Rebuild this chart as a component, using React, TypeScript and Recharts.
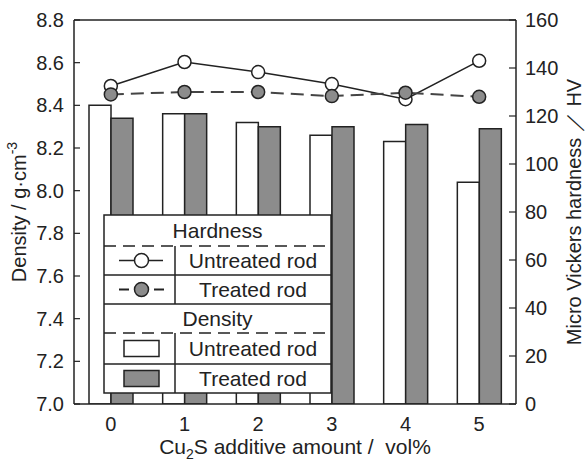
import { ComposedChart, Bar, Line, XAxis, YAxis, ReferenceLine, Legend, Label } from "recharts";

const categories = ["0", "1", "2", "3", "4", "5"];
const densityUntreated = [8.4, 8.36, 8.32, 8.26, 8.23, 8.04];
const densityTreated = [8.34, 8.36, 8.3, 8.3, 8.31, 8.29];
const hardnessUntreated = [132.5, 142.5, 138.3, 133.3, 127, 143];
const hardnessTreated = [129, 130, 130, 128.3, 129.7, 128];
const densityTicks = [7.0, 7.2, 7.4, 7.6, 7.8, 8.0, 8.2, 8.4, 8.6, 8.8];
const hardnessTicks = [0, 20, 40, 60, 80, 100, 120, 140, 160];

const FONT = '"Liberation Sans", Arial, sans-serif';
const INK = "#222";
const GRAY = "#8c8c8c";

const data = categories.map((c, i) => ({
  x: c,
  du: densityUntreated[i],
  dt: densityTreated[i],
  hu: hardnessUntreated[i],
  ht: hardnessTreated[i],
}));

// boxed legend, drawn as svg so the dashes look like the original
function LegendBox() {
  const w = 227;
  const h = 178;
  const rows = [0, 31, 60, 89, 118, 149, 178];
  const div = 71;
  const cx = 37.5;
  const tx = (div + w) / 2;
  const mid = (i: number) => (rows[i] + rows[i + 1]) / 2;
  const txt = { fontFamily: FONT, fontSize: 21, fill: INK, textAnchor: "middle" as const, dominantBaseline: "central" as const };
  return (
    <svg width={w + 2} height={h + 2} style={{ display: "block" }}>
      <g transform="translate(1,1)" stroke={INK} strokeWidth={1.5}>
        <rect x={0} y={0} width={w} height={h} fill="#fff" />
        <line x1={0} x2={w} y1={rows[1]} y2={rows[1]} strokeDasharray="12 7" />
        <line x1={0} x2={w} y1={rows[2]} y2={rows[2]} />
        <line x1={0} x2={w} y1={rows[3]} y2={rows[3]} />
        <line x1={0} x2={w} y1={rows[4]} y2={rows[4]} strokeDasharray="12 7" />
        <line x1={0} x2={w} y1={rows[5]} y2={rows[5]} />
        <line x1={div} x2={div} y1={rows[1]} y2={rows[3]} />
        <line x1={div} x2={div} y1={rows[4]} y2={rows[6]} />
        <line x1={15} x2={59} y1={mid(1)} y2={mid(1)} />
        <circle cx={cx} cy={mid(1)} r={7} fill="#fff" />
        <line x1={15} x2={25} y1={mid(2)} y2={mid(2)} strokeWidth={2} />
        <line x1={50} x2={60} y1={mid(2)} y2={mid(2)} strokeWidth={2} />
        <circle cx={cx} cy={mid(2)} r={7} fill={GRAY} />
        <rect x={20} y={mid(4) - 8} width={35} height={16} fill="#fff" />
        <rect x={20} y={mid(5) - 8} width={35} height={16} fill={GRAY} />
      </g>
      <g transform="translate(1,1)">
        <text x={w / 2} y={mid(0)} {...txt}>Hardness</text>
        <text x={tx} y={mid(1)} {...txt}>Untreated rod</text>
        <text x={tx} y={mid(2)} {...txt}>Treated rod</text>
        <text x={w / 2} y={mid(3)} {...txt}>Density</text>
        <text x={tx} y={mid(4)} {...txt}>Untreated rod</text>
        <text x={tx} y={mid(5)} {...txt}>Treated rod</text>
      </g>
    </svg>
  );
}

const tickStyle = { fontFamily: FONT, fontSize: 20, fill: INK };

// y ticks point into the plot, label sits outside
function LeftTick(props: any) {
  const { x, y, payload } = props;
  const ax = x + 10;
  return (
    <g>
      <line x1={ax} x2={ax + 6} y1={y} y2={y} stroke={INK} strokeWidth={1.2} />
      <text x={x} y={y} textAnchor="end" dominantBaseline="central" {...tickStyle}>
        {Number(payload.value).toFixed(1)}
      </text>
    </g>
  );
}

function RightTick(props: any) {
  const { x, y, payload } = props;
  const ax = x - 9;
  return (
    <g>
      <line x1={ax} x2={ax - 7} y1={y} y2={y} stroke={INK} strokeWidth={1.2} />
      <text x={x} y={y} textAnchor="start" dominantBaseline="central" {...tickStyle}>
        {payload.value}
      </text>
    </g>
  );
}

function App() {
  return (
    <div style={{ position: "absolute", left: 0, top: 0 }}>
      <ComposedChart
        width={588}
        height={461}
        data={data}
        margin={{ top: 20, right: 0, bottom: 0, left: 0 }}
        barGap={0}
      >
        <XAxis
          dataKey="x"
          height={57}
          tickLine={false}
          tickSize={0}
          tickMargin={13}
          axisLine={{ stroke: INK, strokeWidth: 1.5 }}
          tick={tickStyle}
        >
          <Label
            content={({ viewBox }: any) => (
              <text
                x={viewBox.x + viewBox.width / 2}
                y={viewBox.y + viewBox.height - 7}
                textAnchor="middle"
                fontFamily={FONT}
                fontSize={21}
                fill={INK}
                style={{ whiteSpace: "pre" }}
              >
                Cu<tspan dy={5} fontSize={14}>2</tspan>
                <tspan dy={-5}>S additive amount /  vol%</tspan>
              </text>
            )}
          />
        </XAxis>
        <YAxis
          yAxisId="left"
          width={74}
          domain={[7.0, 8.8]}
          ticks={densityTicks}
          tickSize={0}
          tickMargin={10}
          tickLine={false}
          axisLine={{ stroke: INK, strokeWidth: 1.5 }}
          tick={<LeftTick />}
          allowDataOverflow
        >
          <Label
            content={({ viewBox }: any) => {
              const x = viewBox.x + 19;
              const y = viewBox.y + viewBox.height / 2;
              return (
                <text
                  x={x}
                  y={y}
                  transform={`rotate(-90 ${x} ${y})`}
                  textAnchor="middle"
                  dominantBaseline="central"
                  fontFamily={FONT}
                  fontSize={20}
                  fill={INK}
                >
                  Density / g·cm<tspan dy={-7} fontSize={14}>-3</tspan>
                </text>
              );
            }}
          />
        </YAxis>
        <YAxis
          yAxisId="right"
          orientation="right"
          width={72}
          domain={[0, 160]}
          ticks={hardnessTicks}
          tickSize={0}
          tickMargin={9}
          tickLine={false}
          axisLine={{ stroke: INK, strokeWidth: 1.5 }}
          tick={<RightTick />}
        >
          <Label
            content={({ viewBox }: any) => {
              const x = viewBox.x + 58;
              const y = viewBox.y + viewBox.height / 2;
              return (
                <text
                  x={x}
                  y={y}
                  transform={`rotate(-90 ${x} ${y})`}
                  textAnchor="middle"
                  dominantBaseline="central"
                  fontFamily={FONT}
                  fontSize={20}
                  fill={INK}
                >
                  Micro Vickers hardness ／ HV
                </text>
              );
            }}
          />
        </YAxis>
        <ReferenceLine yAxisId="left" y={8.8} stroke={INK} strokeWidth={1.5} />
        <Bar yAxisId="left" dataKey="du" barSize={22} fill="#fff" stroke={INK} strokeWidth={1.5} isAnimationActive={false} />
        <Bar yAxisId="left" dataKey="dt" barSize={22} fill={GRAY} stroke={INK} strokeWidth={1.5} isAnimationActive={false} />
        <Line
          yAxisId="right"
          dataKey="hu"
          stroke={INK}
          strokeWidth={1.5}
          dot={{ r: 6.5, fill: "#fff", stroke: INK, strokeWidth: 1.5 }}
          activeDot={false}
          isAnimationActive={false}
        />
        <Line
          yAxisId="right"
          dataKey="ht"
          stroke="#444"
          strokeWidth={2}
          strokeDasharray="13 7"
          dot={{ r: 6.5, fill: GRAY, stroke: INK, strokeWidth: 1.5, strokeDasharray: "" }}
          activeDot={false}
          isAnimationActive={false}
        />
        <Legend
          verticalAlign="middle"
          align="center"
          layout="horizontal"
          wrapperStyle={{ left: 103, top: 214, width: 229, height: 180 }}
          content={() => <LegendBox />}
        />
      </ComposedChart>
    </div>
  );
}

export default App;
